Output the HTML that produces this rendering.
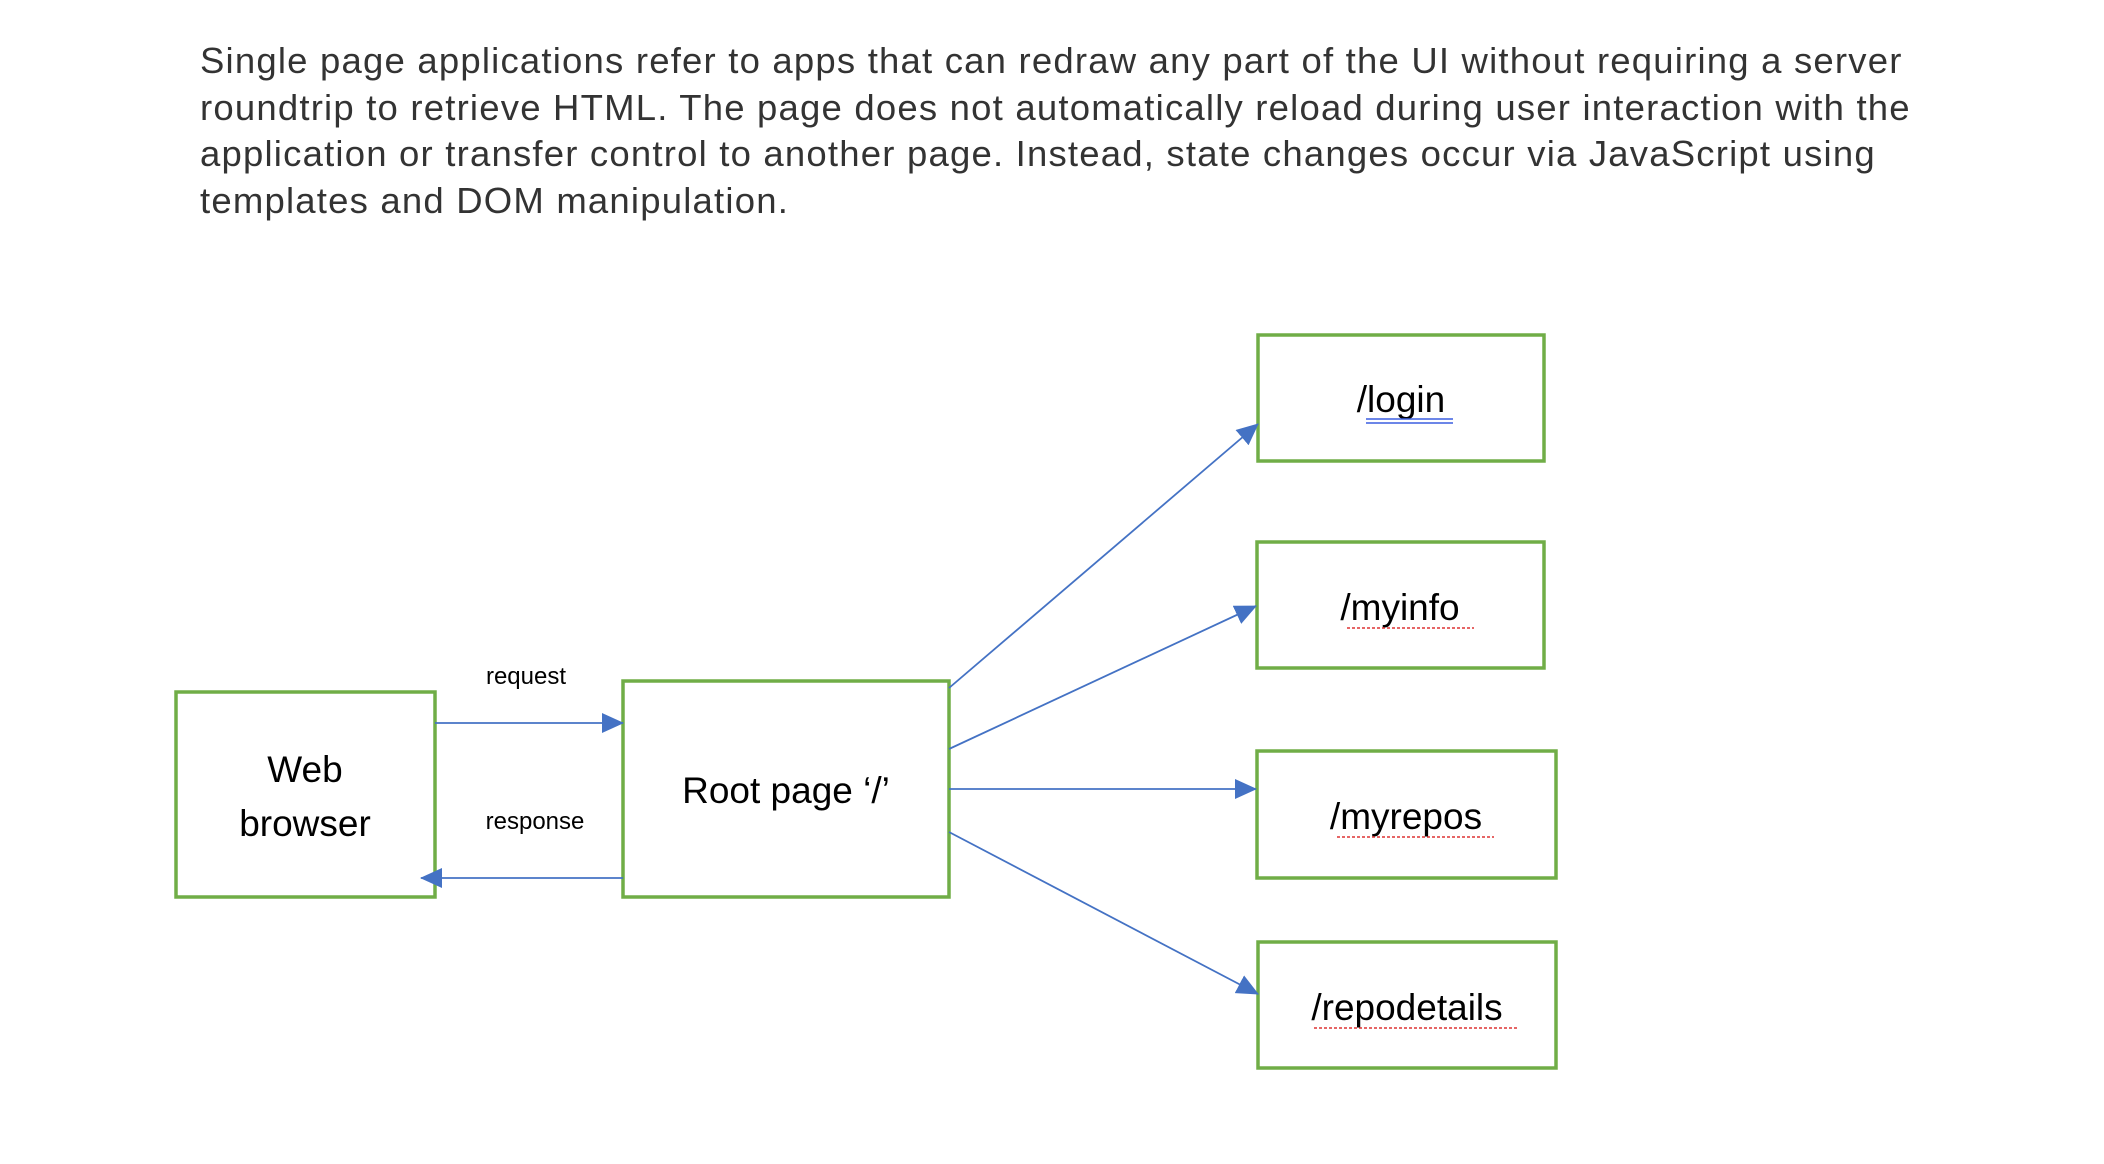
<!DOCTYPE html>
<html><head><meta charset="utf-8"><style>
html,body{margin:0;padding:0;background:#fff;width:2104px;height:1164px;overflow:hidden}
#intro{position:absolute;left:200px;top:38px;width:1900px;font-family:"Liberation Sans",sans-serif;font-size:36.5px;letter-spacing:1.2px;line-height:46.5px;color:#333;white-space:nowrap}
svg{position:absolute;left:0;top:0}
.box{fill:#fff;stroke:#70ad47;stroke-width:3.5}
.lbl{font-family:"Liberation Sans",sans-serif;fill:#000;text-anchor:middle}
.ar{stroke:#4472c4;stroke-width:1.8;fill:none}
</style></head><body>
<div id="intro">Single page applications refer to apps that can redraw any part of the UI without requiring a server<br>roundtrip to retrieve HTML. The page does not automatically reload during user interaction with the<br>application or transfer control to another page. Instead, state changes occur via JavaScript using<br>templates and DOM manipulation.</div>
<svg width="2104" height="1164">
<defs><marker id="ahb" markerWidth="22" markerHeight="20" refX="21" refY="10" orient="auto" markerUnits="userSpaceOnUse"><path d="M0,0 L22,10 L0,20 z" fill="#4472c4"/></marker></defs>
<g><rect class="box" x="176" y="692" width="259" height="205"/><text class="lbl" x="305" y="782" font-size="37">Web</text><text class="lbl" x="305" y="836" font-size="37">browser</text></g>
<g><rect class="box" x="623" y="681" width="326" height="216"/><text class="lbl" x="786" y="803" font-size="37">Root page ‘/’</text></g>
<g><rect class="box" x="1258" y="335" width="286" height="126"/><text class="lbl" x="1401" y="412" font-size="37">/login</text><line x1="1366" y1="419" x2="1453" y2="419" stroke="#3b5fe0" stroke-width="1.5"/><line x1="1366" y1="423" x2="1453" y2="423" stroke="#3b5fe0" stroke-width="1.5"/></g>
<g><rect class="box" x="1257" y="542" width="287" height="126"/><text class="lbl" x="1400" y="620" font-size="37">/myinfo</text><line x1="1347" y1="628" x2="1474" y2="628" stroke="#d33" stroke-width="1.5" stroke-dasharray="3,2"/></g>
<g><rect class="box" x="1257" y="751" width="299" height="127"/><text class="lbl" x="1406" y="829" font-size="37">/myrepos</text><line x1="1337" y1="837" x2="1494" y2="837" stroke="#d33" stroke-width="1.5" stroke-dasharray="3,2"/></g>
<g><rect class="box" x="1258" y="942" width="298" height="126"/><text class="lbl" x="1407" y="1020" font-size="37">/repodetails</text><line x1="1314" y1="1028" x2="1519" y2="1028" stroke="#d33" stroke-width="1.5" stroke-dasharray="3,2"/></g>
<line class="ar" x1="435" y1="723" x2="623" y2="723" marker-end="url(#ahb)"/>
<line class="ar" x1="623" y1="878" x2="421" y2="878" marker-end="url(#ahb)"/>
<text class="lbl" x="526" y="684" font-size="24">request</text>
<text class="lbl" x="535" y="829" font-size="24">response</text>
<line class="ar" x1="949" y1="688" x2="1258" y2="424" marker-end="url(#ahb)"/>
<line class="ar" x1="949" y1="749" x2="1256" y2="606" marker-end="url(#ahb)"/>
<line class="ar" x1="949" y1="789" x2="1256" y2="789" marker-end="url(#ahb)"/>
<line class="ar" x1="949" y1="832" x2="1258" y2="994" marker-end="url(#ahb)"/>
</svg>
</body></html>
